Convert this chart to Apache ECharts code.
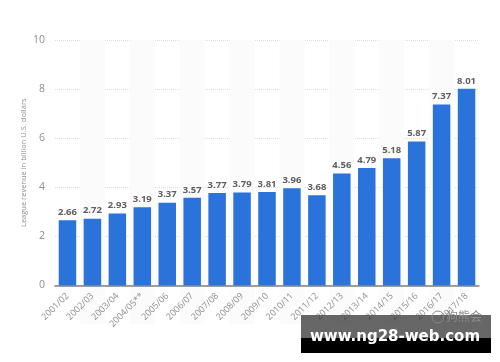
<!DOCTYPE html>
<html>
<head>
<meta charset="utf-8">
<style>
    html, body { margin: 0; padding: 0; background: #fff; }
    #main { width: 500px; height: 362px; }
</style>
<script src="https://cdn.jsdelivr.net/npm/echarts@6/dist/echarts.min.js"></script>
</head>
<body>
<div id="main"></div>
<script>
var seasons = ['2001/02', '2002/03', '2003/04', '2004/05**', '2005/06', '2006/07', '2007/08', '2008/09', '2009/10',
    '2010/11', '2011/12', '2012/13', '2013/14', '2014/15', '2015/16', '2016/17', '2017/18'];
var revenue = [2.66, 2.72, 2.93, 3.19, 3.37, 3.57, 3.77, 3.79, 3.81, 3.96, 3.68, 4.56, 4.79, 5.18, 5.87, 7.37, 8.01];
var yTicks = [0, 2, 4, 6, 8, 10];
var axisTitle = 'League revenue in billion U.S. dollars';
var siteText = 'www.ng28-web.com';
var stampText = '狗熊会';

var chart = echarts.init(document.getElementById('main'));

chart.setOption({
    animation: false,
    backgroundColor: '#ffffff',
    textStyle: { fontFamily: 'Open Sans' },
    grid: [
        // 主图
        { left: 55, top: 40, width: 424, height: 245.5 },
        // 斑马条纹比坐标轴长，单独一个 grid
        { left: 55, top: 40, width: 424, height: 284 }
    ],
    xAxis: [
        {
            type: 'category',
            gridIndex: 0,
            data: seasons,
            axisTick: { show: false },
            axisLine: { lineStyle: { color: '#7f7f7f', width: 1.5 } },
            axisLabel: { rotate: 45, interval: 0, fontSize: 9, color: '#8f8f8f', margin: 9 }
        },
        {
            type: 'category',
            gridIndex: 1,
            data: seasons,
            axisTick: { show: false },
            axisLine: { show: false },
            axisLabel: { show: false, interval: 0 },
            splitArea: { show: true, interval: 0, areaStyle: { color: ['rgba(255,255,255,0)', '#fbfbfb'] } }
        }
    ],
    yAxis: [
        {
            type: 'value',
            gridIndex: 0,
            min: yTicks[0],
            max: yTicks[yTicks.length - 1],
            interval: 2,
            name: axisTitle,
            nameLocation: 'middle',
            nameMoveOverlap: false,
            nameGap: 27,
            nameTextStyle: { fontSize: 7.5, color: '#8f8f8f' },
            axisLine: { show: false },
            axisTick: { show: false },
            axisLabel: { fontSize: 10.5, color: '#8f8f8f', margin: 10 },
            splitLine: { lineStyle: { color: '#dcdcdc', type: 'dotted', width: 1 } }
        },
        {
            type: 'value',
            gridIndex: 1,
            show: false
        }
    ],
    series: [
        {
            type: 'bar',
            xAxisIndex: 0,
            yAxisIndex: 0,
            data: revenue,
            barWidth: 17.5,
            z: 5,
            itemStyle: { color: '#2a73da' },
            label: {
                show: true,
                position: 'top',
                distance: 3,
                fontSize: 9.5,
                fontWeight: 'bold',
                color: '#5f5f5f',
                formatter: function (p) { return p.value.toFixed(2); }
            }
        }
    ],
    graphic: [
        { type: 'rect', z: 20, shape: { x: 301, y: 315, width: 190, height: 23 }, style: { fill: 'rgba(60,60,60,0.78)' } },
        { type: 'rect', z: 20, shape: { x: 301, y: 338, width: 190, height: 15 }, style: { fill: '#000000' } },
        { type: 'circle', z: 21, shape: { cx: 438, cy: 317, r: 6 }, style: { fill: 'none', stroke: '#8a8a8a', lineWidth: 1 } },
        { type: 'text', z: 21, x: 446, y: 310, style: { text: stampText, fontSize: 12, fill: '#8c8c8c', fontFamily: 'Noto Sans CJK SC' } },
        { type: 'text', z: 22, x: 395, y: 337, style: { text: siteText, align: 'center', verticalAlign: 'middle', fontSize: 15, fontWeight: 'bold', fill: '#ffffff', fontFamily: 'DejaVu Sans' } }
    ]
});
</script>
</body>
</html>
